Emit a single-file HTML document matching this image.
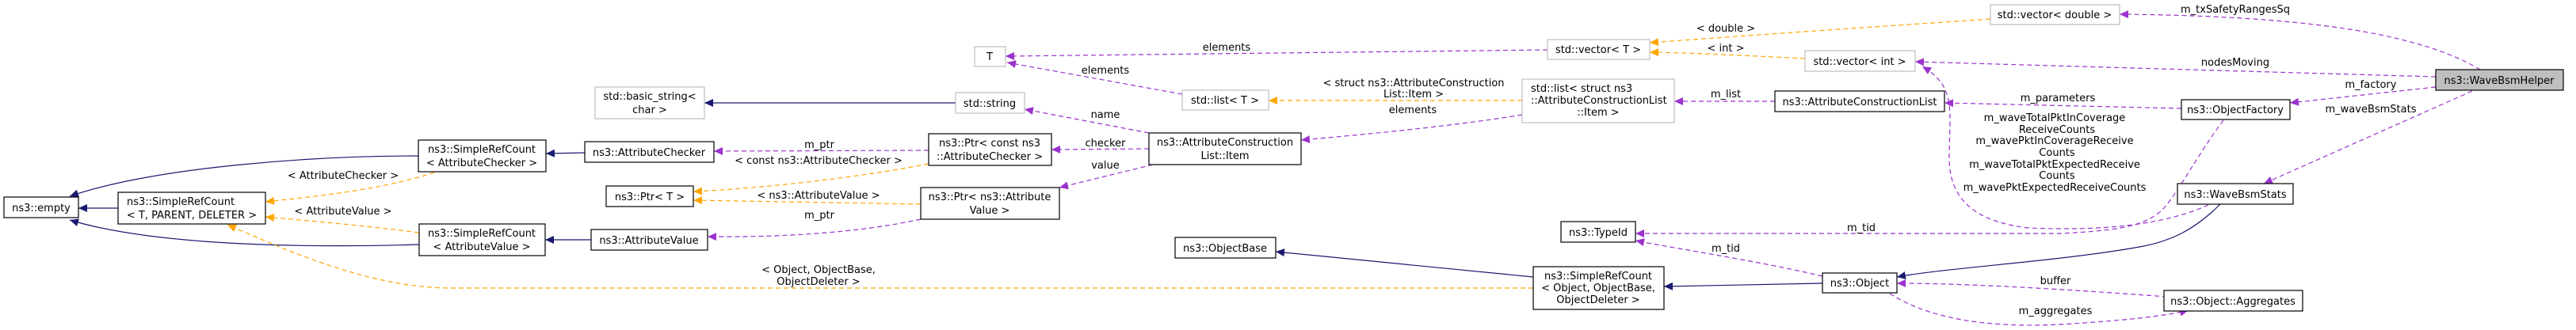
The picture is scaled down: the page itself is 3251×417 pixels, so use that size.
<!DOCTYPE html>
<html><head><meta charset="utf-8"><style>
html,body{margin:0;padding:0;background:#fff;}
svg{display:block;}
text{font-family:"DejaVu Sans","Liberation Sans",sans-serif;font-size:13px;fill:#000;}
.b{fill:#fff;stroke:#000;stroke-width:1.2;}
.g{fill:#fff;stroke:#bfbfbf;stroke-width:1.2;}
.n{fill:none;stroke:#191970;stroke-width:1.2;}
.p{fill:none;stroke:#9a32cd;stroke-width:1.2;stroke-dasharray:6,4;}
.o{fill:none;stroke:#ffa500;stroke-width:1.2;stroke-dasharray:6,4;}
</style></head><body>
<svg width="3251" height="417" viewBox="0 0 3251 417" xmlns="http://www.w3.org/2000/svg">
<defs>
<marker id="mn" markerUnits="userSpaceOnUse" markerWidth="12" markerHeight="10" refX="11" refY="5" orient="auto"><path d="M0,0 L11,5 L0,10 z" fill="#191970"/></marker>
<marker id="mp" markerUnits="userSpaceOnUse" markerWidth="12" markerHeight="10" refX="11" refY="5" orient="auto"><path d="M0,0 L11,5 L0,10 z" fill="#9a32cd"/></marker>
<marker id="mo" markerUnits="userSpaceOnUse" markerWidth="12" markerHeight="10" refX="11" refY="5" orient="auto"><path d="M0,0 L11,5 L0,10 z" fill="#ffa500"/></marker>
</defs>

<!-- navy edges -->
<path class="n" marker-end="url(#mn)" d="M149,263 L99,263"/>
<path class="n" marker-end="url(#mn)" d="M528,197 C400,197 200,210 88,248"/>
<path class="n" marker-end="url(#mn)" d="M529,309 C400,313 200,312 88,278"/>
<path class="n" marker-end="url(#mn)" d="M738,193 L689,194"/>
<path class="n" marker-end="url(#mn)" d="M746,303 L688,303"/>
<path class="n" marker-end="url(#mn)" d="M1206,130 L889,130"/>
<path class="n" marker-end="url(#mn)" d="M1935,350 L1610,318"/>
<path class="n" marker-end="url(#mn)" d="M2300,358 L2100,362"/>
<path class="n" marker-end="url(#mn)" d="M2802,258 C2770,290 2740,305 2700,312 C2600,330 2460,338 2394,350"/>

<!-- orange edges -->
<path class="o" marker-end="url(#mo)" d="M548,218 C480,240 400,248 335,255"/>
<path class="o" marker-end="url(#mo)" d="M529,294 C460,285 400,280 335,274"/>
<path class="o" marker-end="url(#mo)" d="M1935,364 L570,364 C470,364 370,320 287,284"/>
<path class="o" marker-end="url(#mo)" d="M1172,207 C1080,225 960,238 875,242"/>
<path class="o" marker-end="url(#mo)" d="M1162,258 L875,253"/>
<path class="o" marker-end="url(#mo)" d="M1921,127 L1601,127"/>
<path class="o" marker-end="url(#mo)" d="M2512,24 C2350,35 2200,45 2082,54"/>
<path class="o" marker-end="url(#mo)" d="M2278,74 C2200,70 2140,67 2082,66"/>

<!-- purple edges -->
<path class="p" marker-end="url(#mp)" d="M1953,63 L1269,71"/>
<path class="p" marker-end="url(#mp)" d="M1492,119 L1271,79"/>
<path class="p" marker-end="url(#mp)" d="M1450,168 L1293,138"/>
<path class="p" marker-end="url(#mp)" d="M1450,188 L1327,189"/>
<path class="p" marker-end="url(#mp)" d="M1455,208 L1337,237"/>
<path class="p" marker-end="url(#mp)" d="M1172,190 L901,191"/>
<path class="p" marker-end="url(#mp)" d="M1162,277 C1080,295 980,300 893,299"/>
<path class="p" marker-end="url(#mp)" d="M1921,145 C1830,160 1720,170 1642,177"/>
<path class="p" marker-end="url(#mp)" d="M2240,128 L2113,128"/>
<path class="p" marker-end="url(#mp)" d="M2753,137 L2454,130"/>
<path class="p" marker-end="url(#mp)" d="M3130,88 C3050,40 2900,20 2675,18"/>
<path class="p" marker-end="url(#mp)" d="M3074,97 L2417,78"/>
<path class="p" marker-end="url(#mp)" d="M3074,110 L2890,130"/>
<path class="p" marker-end="url(#mp)" d="M3120,115 L2857,232"/>
<path class="p" marker-end="url(#mp)" d="M2787,259 C2730,285 2650,292 2560,288 C2490,280 2460,250 2460,200 C2460,140 2470,110 2426,84"/>
<path class="p" marker-end="url(#mp)" d="M2806,152 C2770,200 2740,260 2723,270 C2700,288 2660,292 2600,295 L2064,295"/>
<path class="p" marker-end="url(#mp)" d="M2300,349 C2220,330 2120,315 2064,304"/>
<path class="p" marker-end="url(#mp)" d="M2735,375 C2600,365 2480,358 2394,358"/>
<path class="p" marker-end="url(#mp)" d="M2385,371 C2430,400 2500,415 2600,410 C2680,405 2730,400 2762,392"/>

<!-- nodes -->
<rect class="b" x="5" y="249" width="94" height="26"/><text x="52" y="267" text-anchor="middle">ns3::empty</text>
<rect class="b" x="149" y="243" width="186" height="40"/><text x="160" y="259">ns3::SimpleRefCount</text><text x="242" y="276" text-anchor="middle">&lt; T, PARENT, DELETER &gt;</text>
<rect class="b" x="528" y="177" width="161" height="40"/><text x="608" y="193" text-anchor="middle">ns3::SimpleRefCount</text><text x="608" y="210" text-anchor="middle">&lt; AttributeChecker &gt;</text>
<rect class="b" x="529" y="283" width="159" height="40"/><text x="608" y="299" text-anchor="middle">ns3::SimpleRefCount</text><text x="608" y="316" text-anchor="middle">&lt; AttributeValue &gt;</text>
<rect class="g" x="751" y="110" width="138" height="40"/><text x="820" y="126" text-anchor="middle">std::basic_string&lt;</text><text x="820" y="143" text-anchor="middle">char &gt;</text>
<rect class="b" x="738" y="179" width="163" height="26"/><text x="819" y="197" text-anchor="middle">ns3::AttributeChecker</text>
<rect class="b" x="765" y="235" width="110" height="26"/><text x="820" y="253" text-anchor="middle">ns3::Ptr&lt; T &gt;</text>
<rect class="b" x="746" y="290" width="147" height="26"/><text x="819" y="308" text-anchor="middle">ns3::AttributeValue</text>
<rect class="g" x="1230" y="59" width="39" height="25"/><text x="1249" y="76" text-anchor="middle">T</text>
<rect class="g" x="1206" y="117" width="87" height="26"/><text x="1249" y="135" text-anchor="middle">std::string</text>
<rect class="b" x="1172" y="169" width="155" height="40"/><text x="1249" y="185" text-anchor="middle">ns3::Ptr&lt; const ns3</text><text x="1249" y="202" text-anchor="middle">::AttributeChecker &gt;</text>
<rect class="b" x="1162" y="237" width="175" height="40"/><text x="1249" y="253" text-anchor="middle">ns3::Ptr&lt; ns3::Attribute</text><text x="1249" y="270" text-anchor="middle">Value &gt;</text>
<rect class="b" x="1450" y="168" width="192" height="40"/><text x="1546" y="184" text-anchor="middle">ns3::AttributeConstruction</text><text x="1546" y="201" text-anchor="middle">List::Item</text>
<rect class="g" x="1492" y="114" width="109" height="25"/><text x="1546" y="131" text-anchor="middle">std::list&lt; T &gt;</text>
<rect class="b" x="1483" y="300" width="127" height="26"/><text x="1546" y="318" text-anchor="middle">ns3::ObjectBase</text>
<rect class="g" x="1953" y="50" width="129" height="25"/><text x="2017" y="67" text-anchor="middle">std::vector&lt; T &gt;</text>
<rect class="g" x="1921" y="100" width="192" height="55"/><text x="1932" y="116">std::list&lt; struct ns3</text><text x="1932" y="131">::AttributeConstructionList</text><text x="2017" y="146" text-anchor="middle">::Item &gt;</text>
<rect class="g" x="2278" y="64" width="139" height="26"/><text x="2347" y="82" text-anchor="middle">std::vector&lt; int &gt;</text>
<rect class="b" x="2240" y="115" width="214" height="26"/><text x="2347" y="133" text-anchor="middle">ns3::AttributeConstructionList</text>
<rect class="b" x="1970" y="280" width="94" height="26"/><text x="2017" y="298" text-anchor="middle">ns3::TypeId</text>
<rect class="b" x="1935" y="337" width="165" height="54"/><text x="2017" y="353" text-anchor="middle">ns3::SimpleRefCount</text><text x="2017" y="368" text-anchor="middle">&lt; Object, ObjectBase,</text><text x="2017" y="383" text-anchor="middle">ObjectDeleter &gt;</text>
<rect class="b" x="2300" y="345" width="94" height="25"/><text x="2347" y="362" text-anchor="middle">ns3::Object</text>
<rect class="g" x="2512" y="6" width="163" height="25"/><text x="2593" y="23" text-anchor="middle">std::vector&lt; double &gt;</text>
<rect x="3074" y="88" width="161" height="26" fill="#bfbfbf" stroke="#000" stroke-width="1.2"/><text x="3154" y="106" text-anchor="middle">ns3::WaveBsmHelper</text>
<rect class="b" x="2753" y="126" width="137" height="25"/><text x="2821" y="143" text-anchor="middle">ns3::ObjectFactory</text>
<rect class="b" x="2748" y="232" width="146" height="26"/><text x="2821" y="250" text-anchor="middle">ns3::WaveBsmStats</text>
<rect class="b" x="2731" y="367" width="175" height="26"/><text x="2818" y="385" text-anchor="middle">ns3::Object::Aggregates</text>

<!-- edge labels -->
<g text-anchor="middle">
<text x="433" y="226">&lt; AttributeChecker &gt;</text>
<text x="433" y="271">&lt; AttributeValue &gt;</text>
<text x="1548" y="64">elements</text>
<text x="1395" y="93">elements</text>
<text x="1395" y="149">name</text>
<text x="1395" y="185">checker</text>
<text x="1395" y="213">value</text>
<text x="1034" y="187">m_ptr</text>
<text x="1033" y="207">&lt; const ns3::AttributeChecker &gt;</text>
<text x="1033" y="251">&lt; ns3::AttributeValue &gt;</text>
<text x="1034" y="276">m_ptr</text>
<text x="1033" y="345">&lt; Object, ObjectBase,</text>
<text x="1033" y="360">ObjectDeleter &gt;</text>
<text x="2178" y="40">&lt; double &gt;</text>
<text x="2178" y="65">&lt; int &gt;</text>
<text x="1784" y="109">&lt; struct ns3::AttributeConstruction</text>
<text x="1784" y="123">List::Item &gt;</text>
<text x="1783" y="143">elements</text>
<text x="2178" y="123">m_list</text>
<text x="2349" y="292">m_tid</text>
<text x="2178" y="318">m_tid</text>
<text x="2821" y="16">m_txSafetyRangesSq</text>
<text x="2821" y="83">nodesMoving</text>
<text x="2992" y="111">m_factory</text>
<text x="2992" y="142">m_waveBsmStats</text>
<text x="2597" y="128">m_parameters</text>
<text x="2593" y="153">m_waveTotalPktInCoverage</text>
<text x="2596" y="168">ReceiveCounts</text>
<text x="2593" y="182">m_wavePktInCoverageReceive</text>
<text x="2596" y="197">Counts</text>
<text x="2593" y="212">m_waveTotalPktExpectedReceive</text>
<text x="2596" y="226">Counts</text>
<text x="2593" y="241">m_wavePktExpectedReceiveCounts</text>
<text x="2594" y="359">buffer</text>
<text x="2594" y="397">m_aggregates</text>
</g>
</svg>
</body></html>
